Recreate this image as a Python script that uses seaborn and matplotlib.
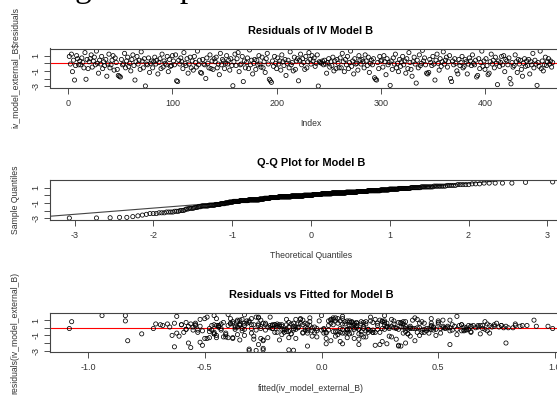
import numpy as np
import pandas as pd
import matplotlib
matplotlib.use("Agg")
import matplotlib.pyplot as plt
import seaborn as sns
from statistics import NormalDist

# ---------------- data ----------------
residuals = [
    0.9, -0.1, 1.2, -1.1, 0.4, -2.2, -0.3, 1.0, 0.6, -0.2, 0.3, -0.2, 0.7, 0.1, -0.6, 1.4, -2.1, 0.5, -0.7, 0.2,
    0.6, 1.1, -0.5, 0.3, 0.8, -0.2, 1.6, 0.0, -1.3, 0.4, -0.1, 0.9, -0.7, 0.2, -0.3, 0.5, -1.7, -0.1, 1.2, -0.6,
    -0.2, 0.4, 1.0, -0.9, 0.7, 0.1, -0.8, -1.6, -1.7, -1.8, 0.5, -0.2, -0.1, 1.3, -0.6, 0.3, 0.8, -0.4, 0.0, -1.0,
    0.5, 1.1, -0.3, -2.2, 0.2, 0.9, -0.1, 0.4, -0.8, 1.5, 0.3, -0.6, 0.6, -2.98, -0.1, -0.2, 0.7, -1.2, 0.0, 0.3,
    -0.6, 0.2, 0.8, -0.1, 0.4, -1.4, 0.1, 0.6, -0.7, 1.2, -0.5, 0.3, 0.0, -0.2, 0.9, -1.1, 0.5, -0.4, -0.3, 1.0,
    0.3, -0.2, 1.1, -2.3, -2.4, 0.4, -0.1, 0.7, 0.2, -0.7, 1.4, 0.0, -0.3, 0.6, -1.3, -0.1, 0.8, -0.6, 0.3, -0.9,
    0.9, 0.1, -0.5, 1.6, -0.2, 0.4, -1.2, -1.3, 0.5, -0.1, -0.2, -2.0, 0.7, 0.0, -0.6, 1.1, -0.7, 0.3, -0.8, 0.6,
    0.2, 0.8, -0.6, -0.1, -1.5, 1.3, -0.2, 0.5, 0.3, -0.7, 0.0, 1.0, -0.1, 0.4, -0.9, 0.6, -0.3, -2.95, 0.2, 1.2,
    -0.3, 0.6, 1.4, -1.1, -0.2, -0.1, 0.9, -2.4, 0.3, -0.6, 0.1, 0.7, -0.7, 1.75, -0.2, 0.4, -1.4, 0.0, 0.5, -0.8,
    0.4, -0.2, 1.0, -0.1, -0.5, 0.8, -0.6, 0.2, -1.2, 0.6, 1.3, -0.1, -2.1, -2.3, -2.5, 0.3, -0.4, 0.9, 0.0, -0.7,
    0.7, -0.1, 0.3, -0.9, 1.1, 0.2, -0.3, 0.5, -1.6, 0.0, 0.4, -0.6, 1.5, -0.2, 0.1, -1.0, 0.8, -0.8, 0.3, 0.6,
    -2.3, 0.4, 1.2, -0.2, 0.6, 0.1, -0.8, 0.9, -0.6, 0.2, 1.4, 0.5, -0.1, 1.0, 0.3, 0.7, -0.4, 0.0, 1.1, -2.99,
    0.2, 0.1, 0.0, 0.3, -0.2, 0.4, -0.1, -1.3, 0.1, 0.6, -0.5, 0.2, -0.3, 0.8, -1.0, 0.3, -0.7, 0.5, 0.0, -0.6,
    0.7, -0.6, 1.3, 0.2, -1.1, 0.5, -0.2, 0.9, -0.7, 0.1, 1.6, -0.4, 0.3, -1.4, 0.6, -0.1, 0.0, -0.9, 1.0, 0.4,
    -0.1, 0.5, 0.2, -0.6, 1.1, 0.3, -0.3, 0.8, -1.2, 0.0, 0.4, -0.2, 0.6, -1.9, -2.1, -2.2, 0.1, -0.7, 0.9, 0.3,
    0.4, -0.5, 1.0, 0.2, -1.5, 0.6, -0.2, 0.1, -2.9, 0.3, -0.8, 0.7, -0.1, 1.2, -0.6, 0.0, -1.1, 0.5, -0.4, 0.2,
    0.9, -0.2, 0.3, -1.3, 0.6, -0.7, 1.4, 0.1, -0.8, -1.7, 0.2, 0.8, -0.1, -2.6, 0.4, -0.6, 1.1, -0.3, 0.0, 1.7,
    0.3, 0.7, -0.2, -1.3, -1.4, -1.2, 0.5, 0.1, -0.3, 0.9, -0.1, -2.2, 0.4, 1.2, 0.0, -0.9, 0.6, -0.4, 0.2, 1.5,
    -0.1, 0.4, 0.8, -0.5, 0.2, 1.0, -2.0, -2.4, 0.3, -0.2, 0.6, 0.0, -1.0, -1.4, 0.5, -0.3, 0.1, 0.9, -0.6, -0.4,
    0.5, 0.2, -1.4, -0.1, 0.7, 0.3, -0.3, 1.1, 0.0, -0.2, 0.4, -1.8, -1.6, 0.6, -0.7, 0.1, 1.6, -0.4, 0.3, -0.8,
    0.6, -0.3, -1.5, -1.3, 0.2, 1.2, -0.1, 0.4, -0.6, 0.8, 0.0, -2.8, 0.3, -0.4, 0.1, 0.9, -0.2, 1.0, -1.1, 0.5,
    0.3, -0.2, 0.7, -2.0, -2.7, 0.1, -0.5, -0.3, 1.1, 0.2, -1.2, 0.5, -0.1, 0.4, -0.8, -1.7, 0.0, 0.6, -0.4, 0.3,
    -0.3, 0.5, -1.4, 0.2, -0.2, 1.3, -0.6, 0.4, -0.1, -2.9, 0.1, -0.4, 1.6, -0.7, 0.3, -1.0, -0.2, 0.8, -0.3, 0.2,
    0.6, -0.1, 0.3, -0.5, 0.1,
]

fitted = [
    -0.31, 0.12, -0.45, 0.38, 0.05, -0.27, 0.61, -0.08, 0.24, -0.58, 0.47, -0.15, 0.33, -0.36, 0.02, -0.22, 0.09, 0.71, -0.41, 0.18,
    0.28, -0.52, 0.07, -0.19, 0.43, -0.33, -0.94, 0.15, -0.48, 0.56, -0.06, 0.21, -0.62, 0.36, -0.12, 0.83, -0.25, 0.01, -0.39, 0.64,
    0.11, -0.29, 0.52, -0.17, 0.34, -0.44, 0.68, -0.35, 0.04, 0.26, -0.56, 0.14, -0.21, 0.40, -0.03, 0.77, -0.38, 0.19, -0.10, 0.49,
    -0.13, 0.30, -0.47, 0.16, -0.26, -0.84, 0.08, -0.60, 0.37, 0.58, -0.05, 0.22, -0.32, -0.28, 0.45, -0.16, 0.13, -0.42, 0.66, 0.03,
    0.25, -0.37, 0.10, 0.53, -0.20, -0.49, 0.35, -0.07, 0.72, -0.30, 0.17, -0.54, 0.42, -0.11, 0.06, 0.29, -0.66, 0.60, -0.24, 0.91,
    -0.40, 0.20, -0.09, -0.51, 0.33, 0.74, -0.34, 0.12, -0.18, 0.46, -0.27, 0.55, 0.00, -0.63, -0.14, 0.39, -1.07, 0.23, -0.45, 0.07,
    0.31, -0.23, 0.64, -0.84, 0.09, -0.46, 0.18, -0.38, 0.50, -0.02, 0.27, -0.57, -0.31, 0.14, -0.19, 0.41, -0.08, 0.86, -0.77, 0.04,
    -0.12, 0.36, -0.53, 0.69, -0.29, 0.05, 0.24, -0.43, 0.15, -0.06, 0.48, -0.35, 0.32, -0.17, 0.58, -0.25, 0.11, -0.12, 0.79, -0.50,
    0.43, -0.33, 0.21, -0.04, 0.62, -0.48, 0.08, 0.34, -0.21, -0.59, 0.28, -0.14, 0.51, -0.40, 0.16, -0.69, 0.02, 0.38, -0.27, 0.37,
    -0.08, 0.47, -0.36, 0.26, -0.15, 0.70, 0.11, -0.52, 0.19, -0.24, 0.06, 0.40, 0.02, 0.33, -0.63, -0.44, 0.55, -0.01, 0.82, -0.30,
    0.15, -0.26, 0.63, -0.41, -0.11, 0.30, -0.55, 0.09, -0.18, 0.52, -0.35, 0.22, -0.62, 0.44, -0.03, -0.64, 0.35, 0.12, -0.47, 0.75,
    0.23, -0.20, 0.07, 0.49, -0.39, 0.61, -0.13, 0.27, -0.46, 0.13, -0.28, -0.06, 0.38, 0.55, -0.33, 0.18, 0.71, -0.22, 0.04, -0.31,
    0.64, -0.10, 0.32, 0.88, -0.37, 0.14, 0.46, -0.23, 0.73, -0.54, 0.05, 0.97, -0.16, 0.26, -0.45, 0.59, 0.10, -0.71, 0.41, -0.08,
    -0.42, 0.20, -0.05, 0.52, -0.29, 0.35, -0.58, 0.11, 0.01, -0.19, 0.27, -0.34, 0.68, -0.50, 0.42, -0.12, 0.78, 0.17, -0.26, 0.60,
    0.29, -0.35, 0.47, 0.08, -0.15, 0.65, -0.43, 0.19, -0.02, 0.54, -0.24, 0.37, -0.09, -0.52, 0.28, 0.55, -0.65, 0.13, -0.32, 0.83,
    -0.21, 0.06, 0.39, -0.57, 0.16, -0.38, 0.70, -0.11, -0.14, 0.24, -0.46, 0.50, -0.30, 0.09, 0.44, -0.04, -0.61, 0.31, 0.21, -0.17,
    0.12, 0.63, -0.27, -0.40, 0.34, 0.02, -0.49, 0.76, -0.13, 0.40, 0.57, -0.36, 0.18, -0.56, 0.27, -0.20, 0.05, 0.48, -0.07, -0.33,
    -0.44, 0.22, 0.58, 0.11, -0.26, 0.30, -0.10, 0.67, -0.53, 0.03, 0.36, 0.25, -0.18, 0.47, 0.80, -0.36, 0.15, -0.04, 0.92, 0.09,
    0.51, -0.30, 0.17, -0.48, 0.74, 0.04, 0.79, -0.06, -0.22, 0.33, -0.12, 0.62, 0.42, -0.38, 0.10, 0.56, -0.55, 0.26, -0.16, 0.45,
    -0.19, 0.38, 0.14, -0.43, 0.27, 0.69, -0.07, -0.34, 0.53, 0.20, -0.60, 0.08, -0.25, 0.44, 0.35, -0.14, 0.00, 0.61, -0.68, 0.16,
    0.07, -0.28, 0.32, -0.45, 0.64, -0.09, -1.08, -0.54, 0.41, 0.13, -0.37, -0.31, 0.72, -0.02, 0.29, 0.50, -0.17, 0.25, 0.06, 0.19,
    -0.35, 0.11, -0.58, 0.36, -0.25, 0.48, -0.14, 0.03, 0.23, 0.85, -0.41, 0.17, -0.72, 0.60, -0.46, -0.83, 0.31, 0.14, -0.06, 0.67,
    0.22, -0.39, -0.11, 0.54, 0.01, -0.27, 0.43, -0.15, 0.99, -0.25, 0.34, -0.51, -0.46, 0.09, 0.77, -0.33, 0.16, -0.05, 0.62, 0.28,
    0.47, -0.21, 0.12, 0.36, -0.44,
]

titles = ["Residuals of IV Model B", "Q-Q Plot for Model B", "Residuals vs Fitted for Model B"]
xlabels = ["Index", "Theoretical Quantiles", "fitted(iv_model_external_B)"]
ylabels = ["iv_model_external_B$residuals", "Sample Quantiles", "residuals(iv_model_external_B)"]
xticks_index = [0, 100, 200, 300, 400]
xticks_qq = [-3, -2, -1, 0, 1, 2, 3]
xticks_fit = [-1.0, -0.5, 0.0, 0.5, 1.0]
xticklabels_fit = ["-1.0", "-0.5", "0.0", "0.5", "1.0"]
yticks = [-3, -2, -1, 0, 1]
yticklabels = ["-3", "", "-1", "", "1"]
page_heading = "Diagnostic plots"

# ---------------- derived frames ----------------
n = len(residuals)
df = pd.DataFrame({"index": np.arange(1, n + 1), "resid": residuals, "fitted": fitted})
nd = NormalDist()
probs = (np.arange(1, n + 1) - 0.5) / n
qq = pd.DataFrame({"theo": [nd.inv_cdf(p) for p in probs], "sample": np.sort(df["resid"].values)})
q1, q3 = np.percentile(df["resid"], [25, 75])
t1, t3 = nd.inv_cdf(0.25), nd.inv_cdf(0.75)
slope = (q3 - q1) / (t3 - t1)
intercept = q1 - slope * t1

# ---------------- style ----------------
sns.set_theme(style="white")
plt.rcParams['font.family'] = ['Liberation Sans', 'DejaVu Sans']
TXT = "#333333"
FS_TICK = 6.5
FS_LAB = 6.2

W, H = 557, 399
fig = plt.figure(figsize=(W / 100, H / 100), dpi=100)


def px_axes(left, top, right, bottom):
    return fig.add_axes([left / W, 1 - bottom / H, (right - left) / W, (bottom - top) / H])


def r_lim(values):
    lo, hi = float(np.min(values)), float(np.max(values))
    pad = 0.04 * (hi - lo)
    return lo - pad, hi + pad


LEFT, RIGHT = 50, 572
frames = [(48.5, 87.5), (180.5, 219.5), (313, 352)]
axes = [px_axes(LEFT, t, RIGHT, b) for t, b in frames]

pt_kw = dict(color="none", edgecolor="black", linewidth=0.55, s=9, marker="o", legend=False)

sns.scatterplot(data=df, x="index", y="resid", ax=axes[0], **pt_kw)
axes[0].axhline(0, color="red", lw=0.8, zorder=0)

sns.scatterplot(data=qq, x="theo", y="sample", ax=axes[1], **pt_kw)
axes[1].axline((0, intercept), slope=slope, color="#444444", lw=0.8, zorder=0)

sns.scatterplot(data=df, x="fitted", y="resid", ax=axes[2], **pt_kw)
axes[2].axhline(0, color="red", lw=0.8, zorder=0)

xt = [xticks_index, xticks_qq, xticks_fit]
xtl = [[str(v) for v in xticks_index], [str(v) for v in xticks_qq], xticklabels_fit]
xdata = [df["index"], qq["theo"], df["fitted"]]
ydata = [df["resid"], qq["sample"], df["resid"]]

for i, ax in enumerate(axes):
    ax.set_xticks(xt[i])
    ax.set_xticklabels(xtl[i])
    ax.set_yticks(yticks)
    ax.set_yticklabels(yticklabels, rotation=90, va="center")
    ax.set_xlim(*r_lim(xdata[i]))
    ax.set_ylim(*r_lim(ydata[i]))
    ax.tick_params(direction="out", length=4, width=0.6, color="#333333",
                   bottom=True, left=True, labelsize=FS_TICK, labelcolor=TXT)
    ax.tick_params(axis="x", pad=4)
    ax.tick_params(axis="y", pad=3)
    for sp in ax.spines.values():
        sp.set_color("#444444")
        sp.set_linewidth(0.8)
    ax.set_title(titles[i], fontsize=7.9, fontweight="bold", color="black", pad=10.5)
    ax.set_xlabel(xlabels[i], fontsize=FS_LAB, color=TXT)
    ax.set_ylabel(ylabels[i], fontsize=FS_LAB, color=TXT)
    ax.xaxis.set_label_coords((311 - LEFT) / (RIGHT - LEFT), -(36.5 / 39.0), transform=ax.transAxes)
    ax.xaxis.label.set_va("center")
    ax.yaxis.set_label_coords(-(35.0 / (RIGHT - LEFT)), 0.5, transform=ax.transAxes)
    ax.yaxis.label.set_va("center")

# clipped serif heading from the page above the figure
fig.text(27 / W, 1 + 3 / H, page_heading, fontsize=24, family=["Liberation Serif", "DejaVu Serif"],
         color="black", ha="left", va="baseline")

fig.savefig("out.png", dpi=100)
